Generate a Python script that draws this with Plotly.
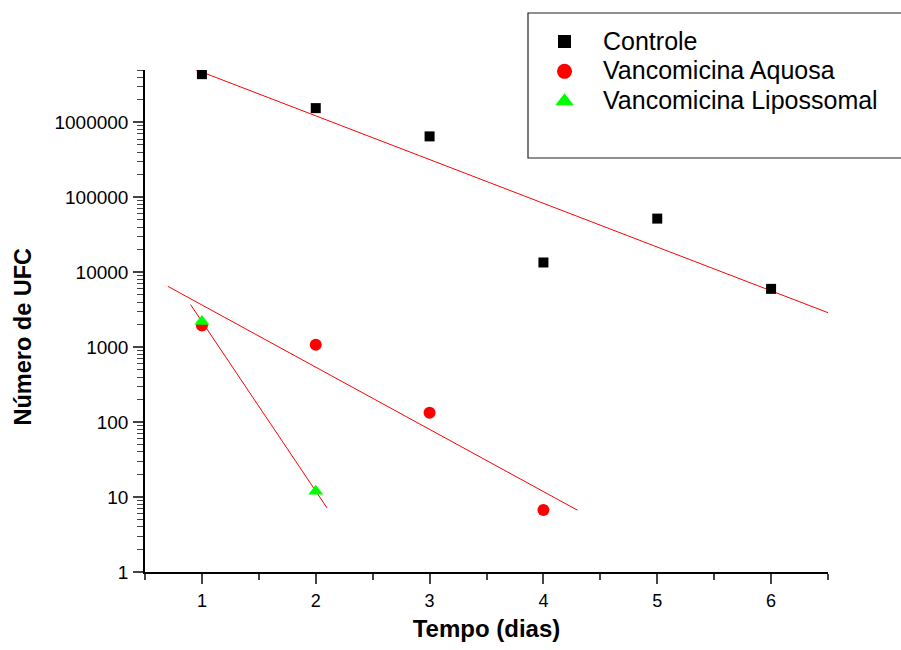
import numpy as np
import plotly.graph_objects as go

# ---- data ----
days = [1, 2, 3, 4, 5, 6]
controle = [4.4e6, 1.55e6, 6.5e5, 1.35e4, 5.2e4, 6.0e3]
aquosa_days = [1, 2, 3, 4]
aquosa = [1950, 1080, 133, 6.7]
lipo_days = [1, 2]
lipo = [2200, 12]

fit_range_controle = [0.5, 6.5]
fit_range_aquosa = [0.7, 4.3]
fit_range_lipo = [0.9, 2.1]

y_tickvals = [1, 10, 100, 1000, 10000, 100000, 1000000]
y_ticktext = ["1", "10", "100", "1000", "10000", "100000", "1000000"]
x_tickvals = [1, 2, 3, 4, 5, 6]

names = ["Controle", "Vancomicina Aquosa", "Vancomicina Lipossomal"]
colors = ["black", "#ff0000", "#00ff00"]
symbols = ["square", "circle", "triangle-up"]

FONT = "Liberation Sans, Arial, sans-serif"


def fit_line(x, y, xr):
    slope, intercept = np.polyfit(np.array(x, float), np.log10(np.array(y, float)), 1)
    xs = np.array(xr, float)
    return xs, 10 ** (slope * xs + intercept)


def legend_label(s):
    return '<span style="font-size:25px">' + s + '</span>'


fig = go.Figure()

for (x, y, xr) in [(days, controle, fit_range_controle),
                   (aquosa_days, aquosa, fit_range_aquosa),
                   (lipo_days, lipo, fit_range_lipo)]:
    fx, fy = fit_line(x, y, xr)
    fig.add_trace(go.Scatter(x=fx, y=fy, mode="lines", line=dict(color="red", width=1),
                             showlegend=False, hoverinfo="skip"))

plot_sizes = [10, 12, 13]
legend_sizes = [13, 15, 16]
series = [(days, controle), (aquosa_days, aquosa), (lipo_days, lipo)]

for i, (x, y) in enumerate(series):
    fig.add_trace(go.Scatter(x=x, y=y, mode="markers", name=names[i], legendgroup=names[i],
                             showlegend=False,
                             marker=dict(symbol=symbols[i], size=plot_sizes[i], color=colors[i])))
for i in range(3):
    # legend-only entries (larger symbols, as in the original legend)
    fig.add_trace(go.Scatter(x=[None], y=[None], mode="markers", name=legend_label(names[i]),
                             legendgroup=names[i], showlegend=True,
                             marker=dict(symbol=symbols[i], size=legend_sizes[i], color=colors[i])))

fig.update_layout(
    width=901, height=650,
    margin=dict(l=145, r=73, t=70, b=78),
    paper_bgcolor="white", plot_bgcolor="white",
    font=dict(family=FONT, color="black"),
    showlegend=True,
    legend=dict(x=(526 - 145) / 683, y=(572 - 21.5) / 502, xanchor="left", yanchor="top",
                font=dict(size=20.7, family=FONT, color="black"),
                bgcolor="rgba(0,0,0,0)", borderwidth=0, itemwidth=67,
                traceorder="normal"),
    shapes=[dict(type="rect", xref="paper", yref="paper",
                 x0=(528 - 145) / 683, x1=1.2, y0=(572 - 158) / 502, y1=(572 - 13) / 502,
                 line=dict(color="#222", width=1.2), fillcolor="rgba(0,0,0,0)")],
    annotations=[dict(text="<b>Número de UFC</b>", xref="paper", yref="paper",
                      x=(22 - 145) / 683, y=(572 - 336.5) / 502, xanchor="center",
                      yanchor="middle", textangle=-90, showarrow=False,
                      font=dict(size=23.5, family=FONT, color="black"))],
)

fig.update_xaxes(
    range=[0.5, 6.5], tickvals=x_tickvals, ticks="outside", ticklen=10, tickwidth=1.5,
    showline=True, linecolor="black", linewidth=1.5, showgrid=False, zeroline=False,
    tickfont=dict(size=18, family=FONT), ticklabelstandoff=2,
    minor=dict(ticks="outside", ticklen=6, tickwidth=1.5, dtick=0.5, tick0=0.5, showgrid=False),
    title=dict(text="<b>Tempo (dias)</b>", font=dict(size=24, family=FONT), standoff=10),
)
fig.update_yaxes(
    type="log", range=[0, np.log10(5e6)], tickvals=y_tickvals, ticktext=y_ticktext,
    ticks="outside", ticklen=10, tickwidth=1.5,
    showline=True, linecolor="black", linewidth=1.5, showgrid=False, zeroline=False,
    tickfont=dict(size=19, family=FONT), ticklabelstandoff=1,
    minor=dict(ticks="outside", ticklen=6, tickwidth=1, dtick="D1", showgrid=False),
)

fig.write_html("out.html")
